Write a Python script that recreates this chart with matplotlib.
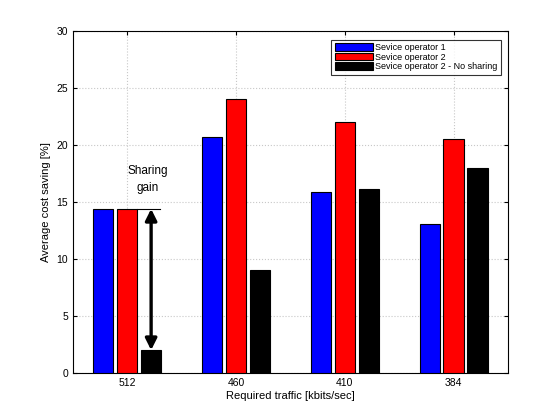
import numpy as np
import matplotlib.pyplot as plt

plt.rcParams['font.family'] = ['Liberation Sans', 'DejaVu Sans']

# -----------------------------
# DATA
# -----------------------------
traffic = ["512", "460", "410", "384"]
operator1 = [14.4, 20.7, 15.9, 13.1]
operator2 = [14.4, 24.0, 22.0, 20.5]
operator2_no_sharing = [2.0, 9.0, 16.1, 18.0]
series_names = ["Sevice operator 1", "Sevice operator 2", "Sevice operator 2 - No sharing"]

# -----------------------------
# PLOT
# -----------------------------
fig = plt.figure(figsize=(5.6, 4.2), dpi=100)
ax = fig.add_axes([0.130, 0.112, 0.777, 0.814])

x = np.arange(1, len(traffic) + 1)
off = 0.22
w = 0.185
ax.bar(x - off, operator1, w, color="blue", edgecolor="black", lw=0.8, label=series_names[0], zorder=3)
ax.bar(x, operator2, w, color="red", edgecolor="black", lw=0.8, label=series_names[1], zorder=3)
ax.bar(x + off, operator2_no_sharing, w, color="black", edgecolor="black", lw=0.8, label=series_names[2], zorder=3)

ax.set_xlim(0.5, 4.5)
ax.set_ylim(0, 30)
ax.set_xticks(x)
ax.set_xticklabels(traffic)
ax.set_yticks(range(0, 31, 5))
ax.tick_params(labelsize=7.5, direction="in", length=3, top=True, right=True)
ax.grid(True, ls=":", color="#c8c8c8", lw=0.8, zorder=0)
for s in ax.spines.values():
    s.set_linewidth(0.8)

ax.set_xlabel("Required traffic [kbits/sec]", fontsize=8, labelpad=2)
ax.set_ylabel("Average cost saving [%]", fontsize=8)

# sharing gain arrow
ax.plot([1 + w / 2, 1 + off + 0.08], [operator1[0], operator1[0]], color="black", lw=0.8, zorder=4)
ax.annotate("", xy=(1 + off, operator2_no_sharing[0]), xytext=(1 + off, operator1[0]),
            arrowprops=dict(arrowstyle="<|-|>", color="black", lw=2.4, mutation_scale=17,
                            shrinkA=0, shrinkB=0), zorder=5)
ax.text(1 + 0.19, 17.0, "Sharing\ngain", ha="center", va="center", fontsize=8.5, linespacing=1.6)

leg = ax.legend(loc="upper right", fontsize=6.5, handlelength=4.2, handleheight=0.9,
                bbox_to_anchor=(0.985, 0.975), borderaxespad=0, fancybox=False,
                edgecolor="black", labelspacing=0.05, handletextpad=0.3, borderpad=0.4)
leg.get_frame().set_linewidth(0.8)

fig.savefig("out.png", dpi=100)
